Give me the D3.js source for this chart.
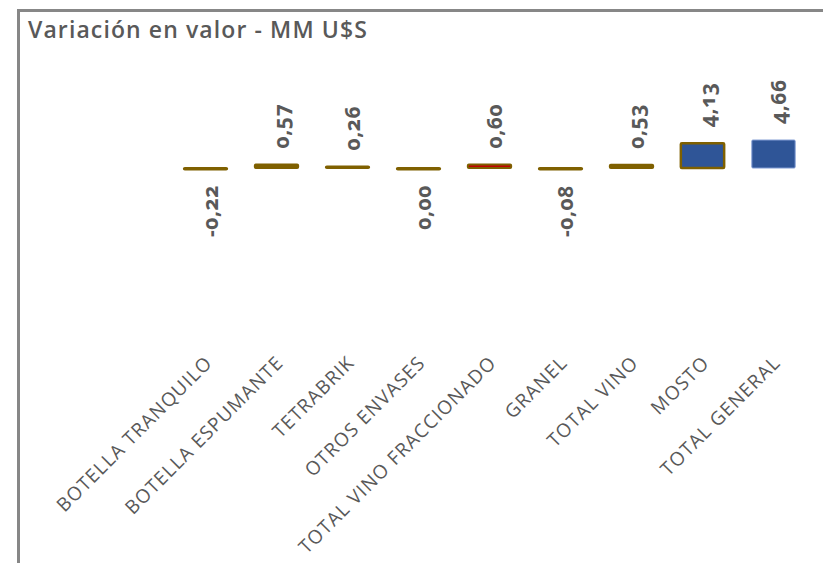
<!DOCTYPE html>
<html lang="es">
<head>
<meta charset="UTF-8">
<title>Variación en valor - MM U$S</title>
<script src="https://cdn.jsdelivr.net/npm/d3@7"></script>
<style>
	body { margin: 0; background: #fff; }
	svg text { font-family: "Open Sans", "DejaVu Sans", sans-serif; fill: #595959; }
	.title { font-size: 23px; font-weight: 600; letter-spacing: 1.1px; }
	.cat { font-size: 19px; letter-spacing: 1.1px; }
	.val { font-family: "Noto Sans", "Open Sans", sans-serif; font-size: 21px; font-weight: 700; font-feature-settings: "onum"; letter-spacing: 0.5px; }
</style>
</head>
<body>
<div id="viz"></div>
<script>
	// data
	const categories = ['BOTELLA TRANQUILO', 'BOTELLA ESPUMANTE', 'TETRABRIK', 'OTROS ENVASES',
		'TOTAL VINO FRACCIONADO', 'GRANEL', 'TOTAL VINO', 'MOSTO', 'TOTAL GENERAL'];
	const values = [-0.22, 0.57, 0.26, 0.00, 0.60, -0.08, 0.53, 4.13, 4.66];
	const fills = ['#7f6000', '#7f6000', '#7f6000', '#7f6000', '#c00000', '#7f6000', '#7f6000', '#2f5597', '#2f5597'];
	const strokes = ['#7f6000', '#7f6000', '#7f6000', '#7f6000', '#7f6000', '#7f6000', '#7f6000', '#7f6000', '#7f9ad2'];

	const W = 823, H = 563;
	const data = categories.map((c, i) => ({cat: c, v: values[i], fill: fills[i], stroke: strokes[i]}));

	let svg = d3.select('#viz').append('svg')
		.attr('width', W).attr('height', H);

	// frame (only top and left edges visible)
	svg.append('path')
		.attr('d', 'M18.5,' + H + 'V10.5H' + W)
		.attr('fill', 'none')
		.attr('stroke', '#878787')
		.attr('stroke-width', 3);

	svg.append('text')
		.attr('class', 'title')
		.attr('x', 28).attr('y', 38)
		.text('Variación en valor - MM U$S');

	let x = d3.scaleBand()
		.domain(categories)
		.range([170, 809])
		.paddingInner(0.39)
		.paddingOuter(0.195);

	let y = d3.scaleLinear()
		.domain([0, 5])
		.range([168, 138]);

	let g = svg.append('g');

	g.selectAll('.bar')
		.data(data)
		.enter().append('rect')
		.attr('class', 'bar')
		.attr('x', d => x(d.cat))
		.attr('width', x.bandwidth())
		.attr('y', d => d.v > 0 ? y(d.v) : y(0))
		.attr('height', d => Math.max(Math.abs(y(d.v) - y(0)), 1.5))
		.attr('rx', 1)
		.attr('fill', d => d.fill)
		.attr('stroke', d => d.stroke)
		.attr('stroke-width', (d, i) => i === 8 ? 1 : (d.v > 1 ? 2.5 : 2));

	const fmt = v => d3.format('.2f')(v).replace('.', ',').replace('−', '-');

	g.selectAll('.val')
		.data(data)
		.enter().append('text')
		.attr('class', 'val')
		.attr('transform', d => {
			let cx = x(d.cat) + x.bandwidth() / 2 + 5;
			let cy = d.v > 0 ? y(d.v) - 16 : y(0) + 17;
			return 'translate(' + cx + ',' + cy + ') rotate(-90)';
		})
		.attr('text-anchor', d => d.v > 0 ? 'start' : 'end')
		.attr('dy', '0.35em')
		.text(d => fmt(d.v));

	g.selectAll('.cat')
		.data(data)
		.enter().append('text')
		.attr('class', 'cat')
		.attr('transform', d => {
			let cx = x(d.cat) + x.bandwidth() / 2 + 8;
			return 'translate(' + cx + ',364) rotate(-45)';
		})
		.attr('text-anchor', 'end')
		.text(d => d.cat);
</script>
</body>
</html>
